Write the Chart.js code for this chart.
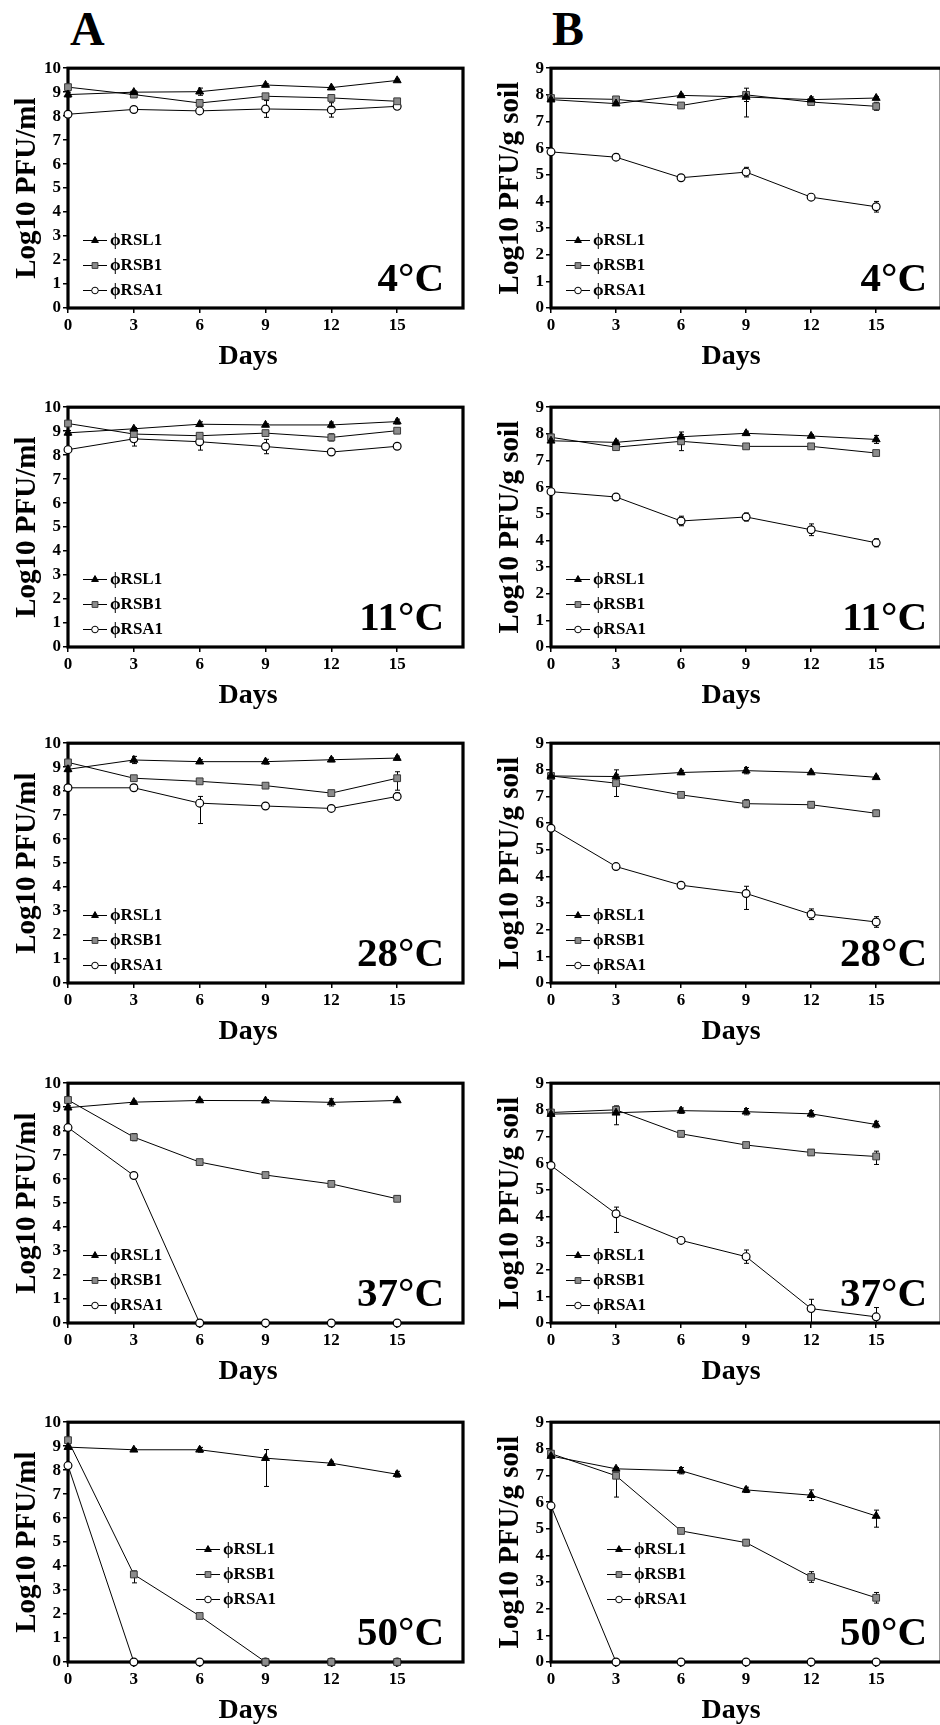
<!DOCTYPE html>
<html><head><meta charset="utf-8">
<script src="https://cdn.jsdelivr.net/npm/chart.js@4.4.0/dist/chart.umd.min.js"></script>
<style>
html,body{margin:0;padding:0;background:#fff;}
#page{position:relative;width:940px;height:1725px;overflow:hidden;background:#fff;}
.cv{position:absolute;}
.letter{position:absolute;font-family:"Liberation Serif",serif;font-weight:bold;font-size:48px;line-height:48px;color:#000;}
</style></head><body><div id="page">
<div class="letter" style="left:70px;top:5px">A</div>
<div class="letter" style="left:552px;top:5px">B</div>
</div>
<script>
// ---------- data ----------
const days = [0, 3, 6, 9, 12, 15];
const xTicks = [0, 3, 6, 9, 12, 15];
const yTicksA = [0,1,2,3,4,5,6,7,8,9,10];
const yTicksB = [0,1,2,3,4,5,6,7,8,9];
const seriesNames = ['ϕRSL1', 'ϕRSB1', 'ϕRSA1'];
const temps = ['4°C', '11°C', '28°C', '37°C', '50°C'];
const yTitleA = 'Log10 PFU/ml';
const yTitleB = 'Log10 PFU/g soil';
const xTitle = 'Days';

// A panels (Log10 PFU/ml)
const A4_RSL1  = [8.90, 9.00, 9.02, 9.30, 9.19, 9.49];
const A4_RSB1  = [9.21, 8.90, 8.55, 8.83, 8.76, 8.62];
const A4_RSA1  = [8.08, 8.28, 8.22, 8.30, 8.26, 8.41];
const A11_RSL1 = [8.93, 9.10, 9.29, 9.26, 9.26, 9.40];
const A11_RSB1 = [9.32, 8.88, 8.81, 8.92, 8.74, 9.02];
const A11_RSA1 = [8.23, 8.68, 8.56, 8.36, 8.13, 8.37];
const A28_RSL1 = [8.91, 9.30, 9.23, 9.23, 9.31, 9.38];
const A28_RSB1 = [9.20, 8.54, 8.41, 8.23, 7.92, 8.54];
const A28_RSA1 = [8.14, 8.14, 7.50, 7.38, 7.28, 7.78];
const A37_RSL1 = [8.98, 9.21, 9.28, 9.27, 9.20, 9.28];
const A37_RSB1 = [9.30, 7.75, 6.71, 6.17, 5.80, 5.18];
const A37_RSA1 = [8.15, 6.15, 0, 0, 0, 0];
const A50_RSL1 = [8.96, 8.85, 8.85, 8.50, 8.29, 7.83];
const A50_RSB1 = [9.25, 3.65, 1.92, 0, 0, 0];
const A50_RSA1 = [8.19, 0, 0, 0, 0, 0];

// B panels (Log10 PFU/g soil)
const B4_RSL1  = [7.82, 7.67, 7.98, 7.92, 7.82, 7.88];
const B4_RSB1  = [7.88, 7.83, 7.60, 8.00, 7.73, 7.57];
const B4_RSA1  = [5.86, 5.66, 4.89, 5.10, 4.16, 3.80];
const B11_RSL1 = [7.74, 7.68, 7.89, 8.02, 7.92, 7.79];
const B11_RSB1 = [7.87, 7.50, 7.72, 7.53, 7.53, 7.28];
const B11_RSA1 = [5.83, 5.63, 4.73, 4.88, 4.40, 3.91];
const B28_RSL1 = [7.77, 7.75, 7.90, 7.97, 7.90, 7.72];
const B28_RSB1 = [7.77, 7.50, 7.06, 6.73, 6.69, 6.37];
const B28_RSA1 = [5.81, 4.37, 3.67, 3.36, 2.58, 2.29];
const B37_RSL1 = [7.84, 7.89, 7.97, 7.93, 7.85, 7.45];
const B37_RSB1 = [7.90, 8.00, 7.10, 6.68, 6.40, 6.25];
const B37_RSA1 = [5.91, 4.10, 3.10, 2.49, 0.54, 0.23];
const B50_RSL1 = [7.73, 7.25, 7.18, 6.46, 6.26, 5.48];
const B50_RSB1 = [7.82, 6.99, 4.92, 4.48, 3.19, 2.41];
const B50_RSA1 = [5.86, 0, 0, 0, 0, 0];

// error bars: number = symmetric, [down, up] = asymmetric
const A4_RSL1_err  = [0.10, 0.05, 0.15, 0.05, 0.05, 0.05];
const A4_RSB1_err  = [0.05, 0.05, 0.05, 0.05, 0.05, 0.05];
const A4_RSA1_err  = [0.05, 0.05, 0.05, 0.35, 0.30, 0.05];
const A11_RSL1_err = [0.10, 0.05, 0.10, 0.05, 0.12, 0.10];
const A11_RSB1_err = [0.05, 0.05, 0.05, 0.05, 0.15, 0.05];
const A11_RSA1_err = [0.05, 0.30, 0.35, 0.30, 0.05, 0.05];
const A28_RSL1_err = [0.10, 0.15, 0.08, 0.10, 0.08, 0.08];
const A28_RSB1_err = [0.05, 0.05, 0.05, 0.08, 0.05, [0.50, 0.27]];
const A28_RSA1_err = [0.05, 0.12, [0.85, 0.28], 0.10, 0.08, 0.15];
const A37_RSL1_err = [0.08, 0.05, 0.05, 0.05, 0.15, 0.05];
const A37_RSB1_err = [0.05, 0.15, 0.05, 0.12, 0.05, 0.12];
const A37_RSA1_err = [0.05, 0.10, 0, 0, 0, 0];
const A50_RSL1_err = [0.05, 0.05, 0.10, [1.18, 0.36], 0.08, 0.12];
const A50_RSB1_err = [0.05, [0.35, 0.15], 0.05, 0, 0, 0];
const A50_RSA1_err = [0.05, 0, 0, 0, 0, 0];
const B4_RSL1_err  = [0.05, 0.05, 0.05, [0.75, 0.10], 0.10, 0.05];
const B4_RSB1_err  = [0.05, 0.05, 0.08, 0.25, 0.10, 0.15];
const B4_RSA1_err  = [0.05, 0.12, 0.05, 0.18, 0.05, 0.20];
const B11_RSL1_err = [0.05, 0.08, 0.08, 0.08, 0.05, 0.15];
const B11_RSB1_err = [0.05, 0.05, 0.35, 0.05, 0.05, 0.08];
const B11_RSA1_err = [0.05, 0.10, 0.18, 0.15, 0.22, 0.15];
const B28_RSL1_err = [0.05, 0.08, 0.08, 0.12, 0.05, 0.05];
const B28_RSB1_err = [0.05, 0.50, 0.10, 0.15, 0.12, 0.12];
const B28_RSA1_err = [0.05, 0.10, 0.05, [0.60, 0.27], 0.20, 0.20];
const B37_RSL1_err = [0.05, [0.45, 0.10], 0.10, 0.12, 0.12, 0.12];
const B37_RSB1_err = [0.05, 0.15, 0.12, 0.10, 0.10, [0.30, 0.20]];
const B37_RSA1_err = [0.05, [0.70, 0.25], 0.10, 0.25, [0.54, 0.35], [0.23, 0.35]];
const B50_RSL1_err = [0.05, 0.05, 0.12, 0.10, 0.20, [0.42, 0.22]];
const B50_RSB1_err = [0.05, [0.80, 0.05], 0.10, 0.12, 0.20, 0.20];
const B50_RSA1_err = [0.05, 0, 0, 0, 0, 0];

// ---------- styles / layout ----------
const FONT = '"Liberation Serif", "Times New Roman", serif';
const seriesStyles = [
  {pointStyle:'triangle', pointRadius:4.6, pointBackgroundColor:'#000', pointBorderColor:'#000', pointBorderWidth:1},
  {pointStyle:'rect', pointRadius:4.8, pointBackgroundColor:'#8c8c8c', pointBorderColor:'#3a3a3a', pointBorderWidth:1},
  {pointStyle:'circle', pointRadius:3.9, pointBackgroundColor:'#fff', pointBorderColor:'#000', pointBorderWidth:1.2}
];
const rowTops = [68, 407, 743, 1083, 1422];
const PLOT_H = 240, PAD_TOP = 12, X_AXIS_H = 70;

const errorBars = {
  id: 'errorBars',
  beforeDatasetsDraw(chart) {
    const ctx = chart.ctx, xs = chart.scales.x, ys = chart.scales.y;
    ctx.save();
    ctx.strokeStyle = '#000'; ctx.lineWidth = 1;
    chart.data.datasets.forEach(ds => {
      ds.data.forEach((p, j) => {
        const e = ds.err[j];
        if (!e) return;
        const lo = Array.isArray(e) ? e[0] : e, hi = Array.isArray(e) ? e[1] : e;
        const x = Math.round(xs.getPixelForValue(p.x)) + 0.5;
        const y1 = ys.getPixelForValue(Math.max(0, p.y - lo)), y2 = ys.getPixelForValue(p.y + hi);
        ctx.beginPath();
        ctx.moveTo(x, y1); ctx.lineTo(x, y2);
        ctx.moveTo(x - 2.5, y1); ctx.lineTo(x + 2.5, y1);
        ctx.moveTo(x - 2.5, y2); ctx.lineTo(x + 2.5, y2);
        ctx.stroke();
      });
    });
    ctx.restore();
  }
};

const decor = {
  id: 'decor',
  beforeDatasetsDraw(chart, args, opts) {
    const ctx = chart.ctx, ca = chart.chartArea;
    ctx.save();
    ctx.strokeStyle = '#000'; ctx.lineWidth = 3.2; ctx.lineJoin = 'miter';
    ctx.strokeRect(ca.left, ca.top, ca.right - ca.left, ca.bottom - ca.top);
    ctx.restore();
  },
  afterDraw(chart, args, opts) {
    const ctx = chart.ctx, ca = chart.chartArea;
    ctx.save();
    ctx.fillStyle = '#000';
    // x title
    ctx.font = 'bold 28px ' + FONT;
    ctx.textAlign = 'center'; ctx.textBaseline = 'alphabetic';
    ctx.fillText(xTitle, ca.left + 180, ca.bottom + 56);
    // y title
    ctx.font = 'bold 29px ' + FONT;
    ctx.save();
    ctx.translate(ca.left - 33, (ca.top + ca.bottom) / 2);
    ctx.rotate(-Math.PI / 2);
    ctx.fillText(opts.yTitle, 0, 0);
    ctx.restore();
    // temperature label
    ctx.font = 'bold 41px ' + FONT;
    ctx.textAlign = 'right';
    ctx.fillText(opts.temp, ca.left + 376, ca.bottom - 17);
    // legend
    ctx.font = 'bold 17px ' + FONT;
    ctx.textAlign = 'left'; ctx.textBaseline = 'middle';
    chart.data.datasets.forEach((ds, i) => {
      const y = ca.bottom - opts.legendY + i * 25;
      const lx = ca.left + opts.legendX;
      ctx.strokeStyle = '#000'; ctx.lineWidth = 1;
      ctx.beginPath(); ctx.moveTo(lx, y + 0.5); ctx.lineTo(lx + 24, y + 0.5); ctx.stroke();
      ctx.fillStyle = ds.pointBackgroundColor; ctx.strokeStyle = ds.pointBorderColor;
      Chart.helpers.drawPoint(ctx, {pointStyle: ds.pointStyle, radius: ds.pointRadius * 0.85, borderWidth: ds.pointBorderWidth, rotation: 0}, lx + 12, y + 0.5);
      ctx.fillStyle = '#000';
      ctx.fillText(ds.label, lx + 27, y + 1);
    });
    ctx.restore();
  }
};

const page = document.getElementById('page');

function makePanel(isA, row, vals, errs, legendX, legendY) {
  const canvasLeft = isA ? 0 : 470;
  const canvasWidth = isA ? 470 : 477;
  const H = PAD_TOP + PLOT_H + X_AXIS_H;
  const cv = document.createElement('canvas');
  cv.className = 'cv';
  cv.width = canvasWidth; cv.height = H;
  cv.style.left = canvasLeft + 'px';
  cv.style.top = (rowTops[row] - PAD_TOP) + 'px';
  cv.style.width = canvasWidth + 'px'; cv.style.height = H + 'px';
  page.appendChild(cv);
  const yTicks = isA ? yTicksA : yTicksB;
  const tickFont = {family: FONT, weight: 'bold', size: 17};
  new Chart(cv, {
    type: 'line',
    data: {
      datasets: vals.map((v, i) => Object.assign({
        label: seriesNames[i],
        data: days.map((d, j) => ({x: d, y: v[j]})),
        err: errs[i],
        borderColor: '#000', borderWidth: 1, tension: 0, fill: false, clip: false
      }, seriesStyles[i]))
    },
    options: {
      responsive: false, animation: false, devicePixelRatio: 1,
      layout: {padding: {top: PAD_TOP, right: isA ? 7 : 0, left: 0, bottom: 0}},
      plugins: {
        legend: {display: false}, tooltip: {enabled: false},
        decor: {yTitle: isA ? yTitleA : yTitleB, temp: temps[row], legendX: legendX, legendY: legendY}
      },
      scales: {
        x: {
          type: 'linear', min: 0, max: 18,
          afterBuildTicks: s => { s.ticks = xTicks.map(v => ({value: v})); },
          afterFit: s => { s.height = X_AXIS_H; },
          ticks: {font: tickFont, color: '#000', padding: 2, maxRotation: 0, autoSkip: false},
          grid: {display: true, drawOnChartArea: false, drawTicks: true, tickLength: 5, color: '#000', lineWidth: 1.5},
          border: {display: false}
        },
        y: {
          min: 0, max: isA ? 10 : 9,
          afterBuildTicks: s => { s.ticks = yTicks.map(v => ({value: v})); },
          afterFit: s => { s.width = isA ? 68 : 81; },
          ticks: {font: tickFont, color: '#000', padding: 2, autoSkip: false},
          grid: {display: true, drawOnChartArea: false, drawTicks: true, tickLength: 5, color: '#000', lineWidth: 1.5},
          border: {display: false}
        }
      }
    },
    plugins: [errorBars, decor]
  });
}

makePanel(true, 0, [A4_RSL1, A4_RSB1, A4_RSA1], [A4_RSL1_err, A4_RSB1_err, A4_RSA1_err], 15, 68);
makePanel(false, 0, [B4_RSL1, B4_RSB1, B4_RSA1], [B4_RSL1_err, B4_RSB1_err, B4_RSA1_err], 15, 68);
makePanel(true, 1, [A11_RSL1, A11_RSB1, A11_RSA1], [A11_RSL1_err, A11_RSB1_err, A11_RSA1_err], 15, 68);
makePanel(false, 1, [B11_RSL1, B11_RSB1, B11_RSA1], [B11_RSL1_err, B11_RSB1_err, B11_RSA1_err], 15, 68);
makePanel(true, 2, [A28_RSL1, A28_RSB1, A28_RSA1], [A28_RSL1_err, A28_RSB1_err, A28_RSA1_err], 15, 68);
makePanel(false, 2, [B28_RSL1, B28_RSB1, B28_RSA1], [B28_RSL1_err, B28_RSB1_err, B28_RSA1_err], 15, 68);
makePanel(true, 3, [A37_RSL1, A37_RSB1, A37_RSA1], [A37_RSL1_err, A37_RSB1_err, A37_RSA1_err], 15, 68);
makePanel(false, 3, [B37_RSL1, B37_RSB1, B37_RSA1], [B37_RSL1_err, B37_RSB1_err, B37_RSA1_err], 15, 68);
makePanel(true, 4, [A50_RSL1, A50_RSB1, A50_RSA1], [A50_RSL1_err, A50_RSB1_err, A50_RSA1_err], 128, 113);
makePanel(false, 4, [B50_RSL1, B50_RSB1, B50_RSA1], [B50_RSL1_err, B50_RSB1_err, B50_RSA1_err], 56, 113);
</script></body></html>
